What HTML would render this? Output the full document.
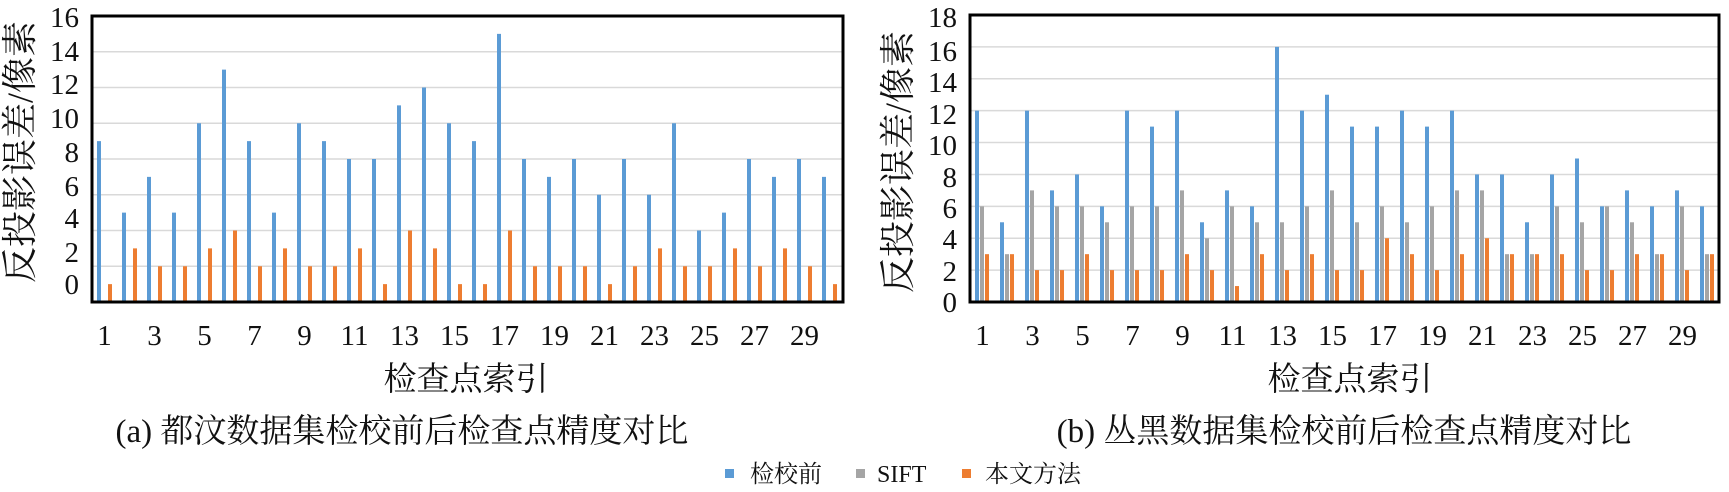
<!DOCTYPE html>
<html><head><meta charset="utf-8"><style>
html,body{margin:0;padding:0;background:#fff;}
svg{display:block;}
text{font-family:"Liberation Serif","Noto Serif CJK SC","Noto Sans CJK SC",serif;fill:#111;}
</style></head><body>
<svg id="s" width="1729" height="492" viewBox="0 0 1729 492" xmlns="http://www.w3.org/2000/svg">
<g id="ga"></g><g id="gb"></g>
<!-- axis titles -->
<text x="20" y="152" font-size="36" text-anchor="middle" dominant-baseline="central" transform="rotate(-90 20 152)">反投影误差/像素</text>
<text x="898" y="162" font-size="36" text-anchor="middle" dominant-baseline="central" transform="rotate(-90 898 162)">反投影误差/像素</text>
<text x="466" y="390" font-size="33" text-anchor="middle">检查点索引</text>
<text x="1350" y="390" font-size="33" text-anchor="middle">检查点索引</text>
<text x="402" y="442" font-size="33" text-anchor="middle">(a) 都汶数据集检校前后检查点精度对比</text>
<text x="1344" y="442" font-size="33" text-anchor="middle">(b) 丛黑数据集检校前后检查点精度对比</text>
<!-- legend -->
<rect x="725" y="469" width="9" height="9" fill="#5b9bd5"/>
<text x="750" y="482" font-size="24">检校前</text>
<rect x="856" y="469" width="9" height="9" fill="#a5a5a5"/>
<text x="877" y="482" font-size="24">SIFT</text>
<rect x="962" y="469" width="9" height="9" fill="#ed7d31"/>
<text x="985" y="482" font-size="24">本文方法</text>
</svg>
<script>
var NS="http://www.w3.org/2000/svg";
function el(p,t,a,txt){var e=document.createElementNS(NS,t);for(var k in a)e.setAttribute(k,a[k]);if(txt!==undefined)e.textContent=txt;p.appendChild(e);return e;}
function chart(g,o){
  var L=o.L,R=o.R,T=o.T,B=o.B,unit=(B-T)/o.max;
  for(var v=2;v<o.max;v+=2){var y=B-v*unit;el(g,'line',{x1:L,x2:R,y1:y,y2:y,stroke:'#d9d9d9','stroke-width':1.5});}
  for(var i=0;i<30;i++){
    var cl=L+25*i;
    var s=o.series;
    for(var j=0;j<s.length;j++){
      var h=s[j].d[i]*unit;
      el(g,'rect',{x:cl+s[j].off,y:B-h,width:4,height:h,fill:s[j].c});
    }
    if(i%2==0) el(g,'text',{x:cl+12.5,y:345,'font-size':29,'text-anchor':'middle'},String(i+1));
  }
  el(g,'rect',{x:L,y:T,width:R-L,height:B-T,fill:'none',stroke:'#000','stroke-width':3});
  for(var k=0;k<o.labels.length;k++){
    el(g,'text',{x:o.lx,y:o.labels[k][1],'font-size':29,'text-anchor':'end','dominant-baseline':'central'},String(o.labels[k][0]));
  }
}
chart(document.getElementById('ga'),{L:92,R:843,T:16,B:302,max:16,lx:79,
 labels:[[16,18],[14,52],[12,85],[10,119],[8,153],[6,187],[4,219],[2,253],[0,285]],
 series:[{c:'#5b9bd5',off:5,d:[9,5,7,5,10,13,9,5,10,9,8,8,11,12,10,9,15,8,7,8,6,8,6,10,4,5,8,7,8,7]},
         {c:'#ed7d31',off:16,d:[1,3,2,2,3,4,2,3,2,2,3,1,4,3,1,1,4,2,2,2,1,2,3,2,2,3,2,3,2,1]}]});
chart(document.getElementById('gb'),{L:970,R:1719,T:15,B:302,max:18,lx:957,
 labels:[[18,18],[16,52],[14,83],[12,115],[10,146],[8,178],[6,209],[4,240],[2,272],[0,303]],
 series:[{c:'#5b9bd5',off:5,d:[12,5,12,7,8,6,12,11,12,5,7,6,16,12,13,11,11,12,11,12,8,8,5,8,9,6,7,6,7,6]},
         {c:'#a5a5a5',off:10,d:[6,3,7,6,6,5,6,6,7,4,6,5,5,6,7,5,6,5,6,7,7,3,3,6,5,6,5,3,6,3]},
         {c:'#ed7d31',off:15,d:[3,3,2,2,3,2,2,2,3,2,1,3,2,3,2,2,4,3,2,3,4,3,3,3,2,2,3,3,2,3]}]});
</script>
</body></html>
